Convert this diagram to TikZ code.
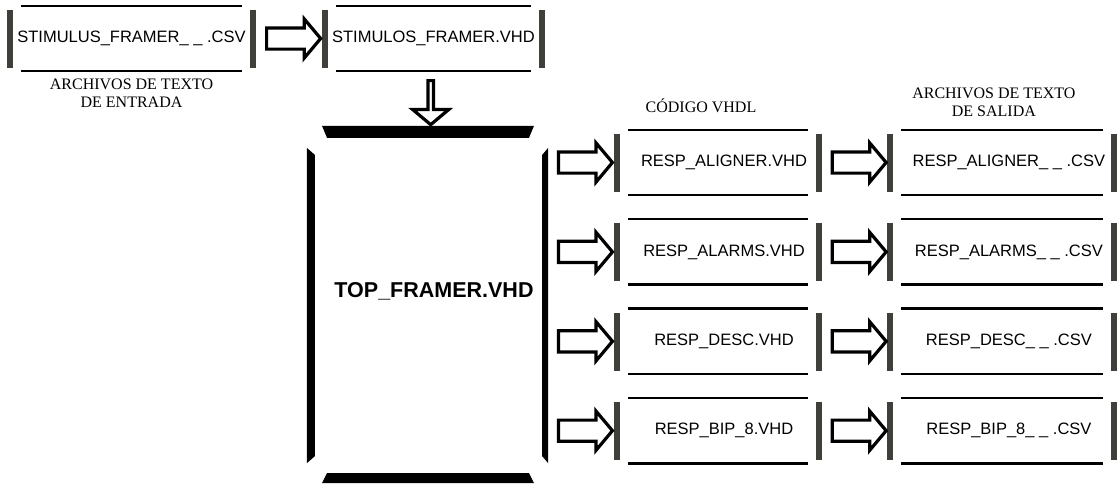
\documentclass[tikz,border=0pt]{standalone}
\usepackage{fontspec}
\setmainfont{Liberation Serif}
\setsansfont{Liberation Sans}
\usetikzlibrary{shapes.arrows, positioning, calc}
\definecolor{bargray}{RGB}{62,64,58}
\newcommand{\filefont}{\sffamily\fontsize{16.5}{19}\selectfont}
\newcommand{\headfont}{\rmfamily\fontsize{16}{18}\selectfont}
\tikzset{
    filebox/.style = {rectangle, minimum width=#1, minimum height=65, inner sep=0pt, font=\filefont},
    framebox/.style = {rectangle, minimum width=234, minimum height=346, inner sep=0pt, font=\sffamily\bfseries\fontsize{21.5}{24}\selectfont, text height=16pt, text depth=32pt},
    rule/.style = {line width=2.5pt},
    sidebar/.style = {line width=6pt, draw=bargray},
    blockarrow/.style = {single arrow, draw, fill=white, line width=3.2pt, inner xsep=0pt, inner ysep=9pt, single arrow head extend=9pt, single arrow tip angle=100, minimum height=54, minimum width=36},
    heading/.style = {font=\headfont, align=center, inner sep=0pt}
}

\begin{document}
\begin{tikzpicture}[x=1pt, y=-1pt]
\useasboundingbox (0,0) rectangle (1120,483);
% Nodes
\node (csvin) [filebox=243] at (131.5,38.5) {STIMULUS\_FRAMER\_ \_ .CSV};
\node (stim) [filebox=216, right=72pt of csvin] {STIMULOS\_FRAMER.VHD};
\node (top) [framebox] at (428,305) {\hspace*{12pt}TOP\_FRAMER.VHD};

\node (v1) [filebox=202] at (718,162.5) {\hspace*{12pt}RESP\_ALIGNER.VHD};
\node (v2) [filebox=202, below=24pt of v1] {\hspace*{12pt}RESP\_ALARMS.VHD};
\node (v3) [filebox=202, below=24pt of v2] {\hspace*{12pt}RESP\_DESC.VHD};
\node (v4) [filebox=202, below=24pt of v3] {\hspace*{12pt}RESP\_BIP\_8.VHD};

\node (c1) [filebox=223, right=71pt of v1] {\hspace*{14pt}RESP\_ALIGNER\_ \_ .CSV};
\node (c2) [filebox=223, right=71pt of v2] {\hspace*{14pt}RESP\_ALARMS\_ \_ .CSV};
\node (c3) [filebox=223, right=71pt of v3] {\hspace*{14pt}RESP\_DESC\_ \_ .CSV};
\node (c4) [filebox=223, right=71pt of v4] {\hspace*{14pt}RESP\_BIP\_8\_ \_ .CSV};

\node (entrada) [heading, below=8pt of csvin] {ARCHIVOS DE TEXTO\\DE ENTRADA};
\node (vhdl) [heading, above=17pt of v1, xshift=-17pt] {CÓDIGO VHDL};
\node (salida) [heading, above=13pt of c1, xshift=-8pt] {ARCHIVOS DE TEXTO\\DE SALIDA};

% Box rules and side bars
\foreach \n in {csvin, stim, v1, v2, v3, v4, c1, c2, c3, c4} {
    \draw[rule] ([xshift=11]\n.north west) -- ([xshift=-11]\n.north east);
    \draw[rule] ([xshift=11]\n.south west) -- ([xshift=-11]\n.south east);
    \draw[sidebar] ([yshift=-4]\n.north west) -- ([yshift=3.5]\n.south west);
    \draw[sidebar] ([yshift=-4]\n.north east) -- ([yshift=3.5]\n.south east);
}

% Frame of the top file
\fill ($(top.north)+(-106,-6)$) -- ($(top.north)+(106,-6)$) -- ($(top.north)+(101,6)$) -- ($(top.north)+(-101,6)$) -- cycle;
\fill ($(top.south)+(-101,-5)$) -- ($(top.south)+(101,-5)$) -- ($(top.south)+(106,5)$) -- ($(top.south)+(-106,5)$) -- cycle;
\fill ($(top.north west)+(-4,16)$) -- ($(top.north west)+(4,23)$) -- ($(top.south west)+(4,-22)$) -- ($(top.south west)+(-4,-15)$) -- cycle;
\fill ($(top.north east)+(3,16)$) -- ($(top.north east)+(-3,23)$) -- ($(top.south east)+(-3,-22)$) -- ($(top.south east)+(3,-15)$) -- cycle;

% Arrows
\node (a0) [blockarrow] at ($(csvin.east)!0.5!(stim.west)$) {};
\node (down) [blockarrow, shape border rotate=270, minimum height=44] at ($(stim.south)!0.5!(top.north)$) {};
\foreach \i in {1,...,4} {
    \node (in\i) [blockarrow] at ($(top.east |- v\i.west)!0.5!(v\i.west)$) {};
    \node (out\i) [blockarrow] at ($(v\i.east)!0.5!(c\i.west)$) {};
}

\end{tikzpicture}
\end{document}
